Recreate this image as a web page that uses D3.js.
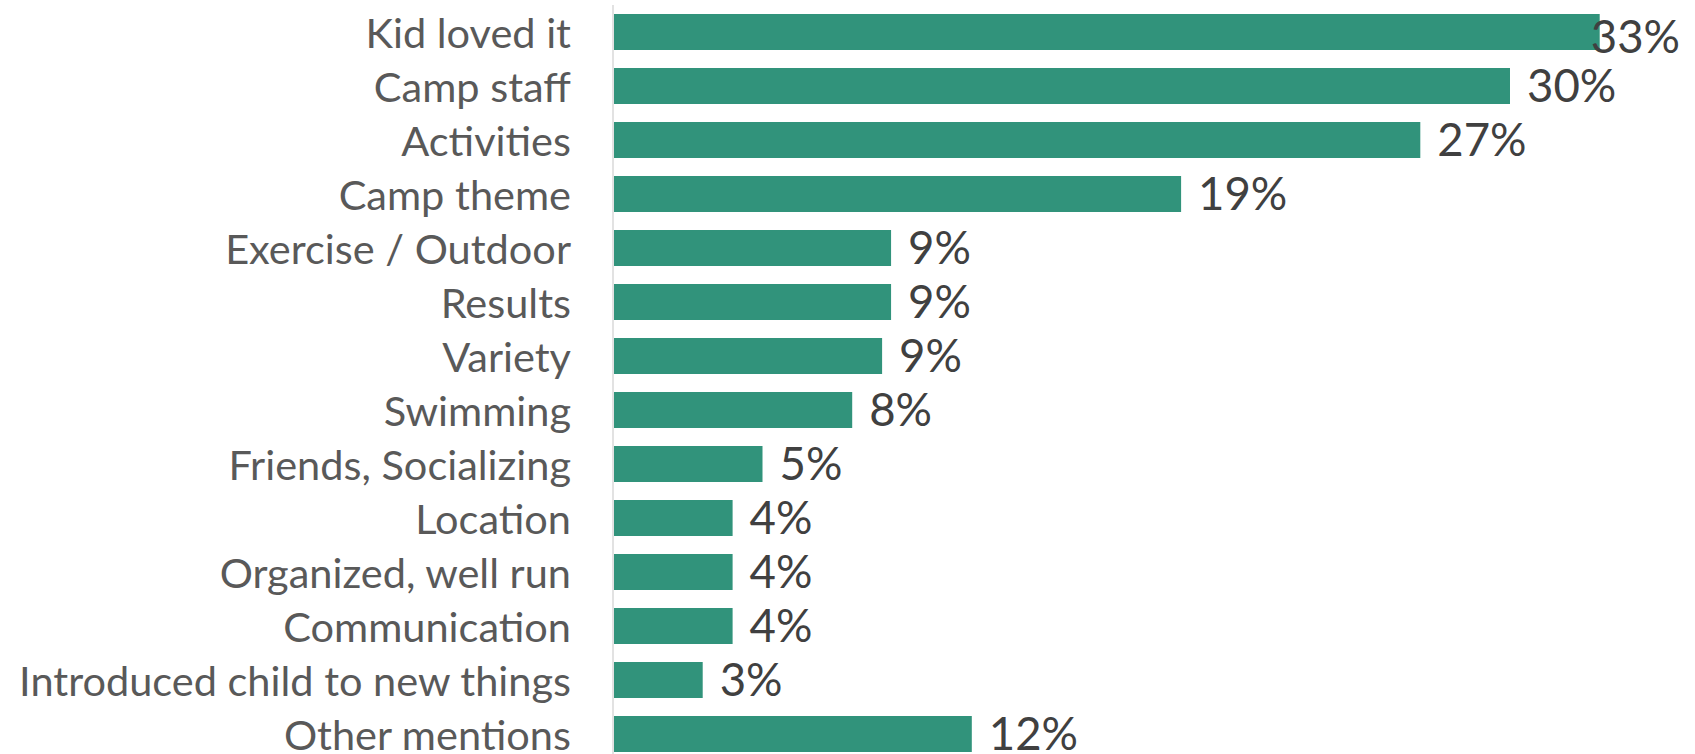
<!DOCTYPE html>
<html>
<head>
<meta charset="utf-8">
<script src="https://d3js.org/d3.v7.min.js"></script>
<style>
	body { margin: 0; background: #fff; overflow: hidden; }
	.catlabel { font-family: Lato, sans-serif; font-size: 41.5px; fill: #595959; }
	.vallabel { font-family: Lato, sans-serif; font-size: 45.5px; fill: #404040; }
</style>
</head>
<body>
<svg id="chart"></svg>
<script>
// Reasons parents liked the camp (share of mentions, %)
const categories = ["Kid loved it", "Camp staff", "Activities", "Camp theme", "Exercise / Outdoor",
	"Results", "Variety", "Swimming", "Friends, Socializing", "Location",
	"Organized, well run", "Communication", "Introduced child to new things", "Other mentions"];
const values = [33, 30, 27, 19, 9.3, 9.3, 9.0, 8, 5, 4, 4, 4, 3, 12];
const valueLabels = ["33%", "30%", "27%", "19%", "9%", "9%", "9%", "8%", "5%", "4%", "4%", "4%", "3%", "12%"];

const svgWidth = 1695;
const svgHeight = 754;
const margin = {top: 5, right: 15, left: 613};

const svg = d3.select('#chart')
	.attr("width", svgWidth)
	.attr("height", svgHeight);

// Scales (plot area runs a little past the bottom edge, as in the original)
const x = d3.scaleLinear()
	.domain([0, 35])
	.range([margin.left, margin.left + 35 * 29.9]);
const y = d3.scaleBand()
	.domain(categories)
	.range([margin.top, margin.top + 756])
	.paddingInner(1/3)
	.paddingOuter(1/6);

// Bars
svg.selectAll(".bar")
	.data(values)
	.enter().append("rect")
		.attr("class", "bar")
		.attr("x", x(0) + 1)
		.attr("y", (d,i) => y(categories[i]))
		.attr("width", d => x(d) - x(0) - 1)
		.attr("height", y.bandwidth())
		.style("fill", "#31937b");

// Vertical axis line
svg.append("line")
	.attr("x1", x(0)).attr("x2", x(0))
	.attr("y1", y.range()[0]).attr("y2", y.range()[1])
	.style("stroke", "#d9d9d9")
	.style("stroke-width", 1.5);

// Category labels
svg.append("g")
	.selectAll(".catlabel")
	.data(categories)
	.enter().append("text")
		.attr("class", "catlabel")
		.attr("text-anchor", "end")
		.attr("x", x(0) - 42)
		.attr("y", d => y(d) + y.bandwidth()/2 + 15.5)
		.text(d => d);

// Value labels, kept inside the chart on the right
const limit = svgWidth - margin.right;
svg.append("g")
	.selectAll(".vallabel")
	.data(values)
	.enter().append("text")
		.attr("class", "vallabel")
		.attr("y", (d,i) => y(categories[i]) + y.bandwidth()/2 + 16)
		.text((d,i) => valueLabels[i])
		.each(function(d){
			const w = this.getComputedTextLength();
			let px = x(d) + 17;
			const sel = d3.select(this);
			if(px + w > limit){
				px = limit - w;
				sel.attr("y", +sel.attr("y") + 5);
			}
			sel.attr("x", px);
		});
</script>
</body>
</html>
